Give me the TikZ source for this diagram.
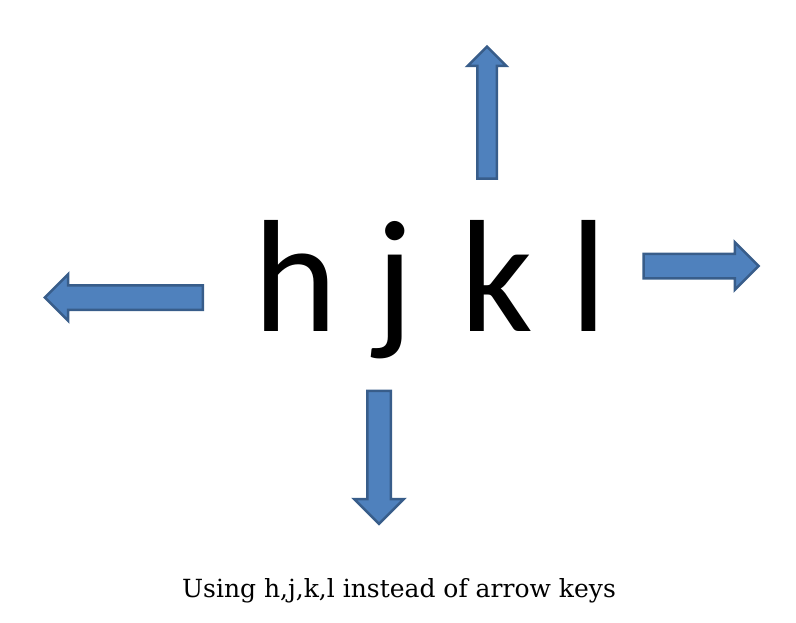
\documentclass[tikz,border=0pt]{standalone}
\usepackage{fontspec}
\setmainfont{DejaVu Serif}
\newfontfamily\keyfont{Carlito}
\usetikzlibrary{shapes.arrows}
\definecolor{arrowfill}{HTML}{4F81BD}
\definecolor{arrowline}{HTML}{385D8A}
\tikzstyle{keyarrow}=[single arrow, draw=arrowline, fill=arrowfill, line width=2.5pt,
    inner sep=0pt, text width=0pt, text depth=0pt, minimum width=1pt,
    single arrow head indent=0pt, single arrow tip angle=90]
\tikzstyle{keys}=[font=\keyfont\fontsize{160}{160}\selectfont, inner sep=0pt, anchor=base]
\tikzstyle{caption}=[font=\fontsize{25}{25}\selectfont, inner sep=0pt, anchor=base]

\begin{document}
\begin{tikzpicture}[x=1pt,y=-1pt]
	\useasboundingbox (0,0) rectangle (796,622);
	% Define the letters and the caption
	\node (hjkl) [keys] at (430,331) {h\hspace{38pt}j\hspace{47pt}k\hspace{37pt}l};
	\node (cap) [caption] at (399,597) {Using h,j,k,l instead of arrow keys};

	% Define the arrows around the letters
	\node (up) [keyarrow, rotate=90, text height=17pt, minimum height=132pt,
	    single arrow head extend=9.5pt] at (487,117.5) {};
	\node (left) [keyarrow, rotate=180, text height=22pt, minimum height=158pt,
	    single arrow head extend=11pt] at (130,297.5) {};
	\node (right) [keyarrow, text height=22pt, minimum height=115pt,
	    single arrow head extend=11.5pt] at (695,266) {};
	\node (down) [keyarrow, rotate=-90, text height=21pt, minimum height=133pt,
	    single arrow head extend=13pt] at (379,451.5) {};
\end{tikzpicture}
\end{document}
